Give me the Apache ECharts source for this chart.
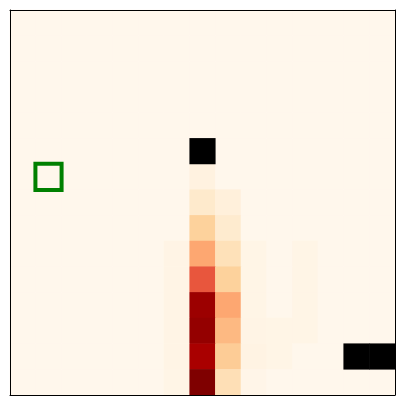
<!DOCTYPE html>
<html>
<head>
<meta charset="utf-8">
<script src="https://cdn.jsdelivr.net/npm/echarts@6/dist/echarts.min.js"></script>
<style>html,body{margin:0;padding:0;background:#fff;}#c{width:405px;height:405px;}</style>
</head>
<body>
<div id="c"></div>
<script>
// 15 x 15 grid, rows listed top to bottom
var xCategories = ['0','1','2','3','4','5','6','7','8','9','10','11','12','13','14'];
var yCategories = ['0','1','2','3','4','5','6','7','8','9','10','11','12','13','14'];
var heatValues = [
  [0,0,0,0,0,0,0,0,0,0,0,0,0,0,0],
  [0,0,0,0,0,0,0,0,0,0,0,0,0,0,0],
  [0,0,0,0,0,0,0,0,0,0,0,0,0,0,0],
  [0,0,0,0,0,0,0,0,0,0,0,0,0,0,0],
  [0,0,0,0,0,0,0,0,0,0,0,0,0,0,0],
  [0,0,0,0,0,0,0,null,0,0,0,0,0,0,0],
  [0,0,0,0,0,0,0,0.04,0,0,0,0,0,0,0],
  [0,0,0,0,0,0,0,0.11,0.06,0,0,0,0,0,0],
  [0,0,0,0,0,0,0,0.26,0.10,0,0,0,0,0,0],
  [0,0,0,0,0,0,0.025,0.43,0.17,0.02,0,0.02,0,0,0],
  [0,0,0,0,0,0,0.025,0.66,0.26,0.02,0,0.02,0,0,0],
  [0,0,0,0,0,0,0.025,0.93,0.43,0.02,0,0.02,0,0,0],
  [0,0,0,0,0,0,0.025,0.95,0.38,0.025,0.02,0.02,0,0,0],
  [0,0,0,0,0,0,0.025,0.90,0.29,0.03,0.02,0,0,null,null],
  [0,0,0,0,0,0,0.02,1.00,0.18,0.015,0,0,0,0,0]
];
// cells drawn in black (masked)
var maskedCells = [[7,5],[13,13],[14,13]];
// outlined cell [col,row]
var highlightCells = [[1,6]];
var orrd = ['#fff7ec','#fee8c8','#fdd49e','#fdbb84','#fc8d59','#ef6548','#d7301f','#b30000','#7f0000'];

var heatData = [];
for (var r = 0; r < heatValues.length; r++) {
  for (var c = 0; c < heatValues[r].length; c++) {
    if (heatValues[r][c] !== null) heatData.push([c, r, heatValues[r][c]]);
  }
}
function frameAxis(type, pos, inv) {
  return {type: 'category', data: type === 'x' ? xCategories : yCategories, position: pos, inverse: inv, z: 10,
    axisLine: {show: true, onZero: false, lineStyle: {color: '#000', width: 1}},
    axisTick: {show: false}, axisLabel: {show: false}, splitLine: {show: false}};
}
var chart = echarts.init(document.getElementById('c'), null, {renderer:'canvas'});
chart.setOption({
  animation: false,
  grid: {left: 10, top: 10, right: 10, bottom: 10},
  xAxis: [frameAxis('x', 'bottom', false), frameAxis('x', 'top', false)],
  yAxis: [frameAxis('y', 'left', true), frameAxis('y', 'right', true)],
  visualMap: {show: false, min: 0, max: 1, seriesIndex: 0, inRange: {color: orrd}},
  series: [
    {type: 'heatmap', data: heatData, z: 2},
    {type: 'heatmap', data: maskedCells.map(function(p){return [p[0], p[1], 1];}), itemStyle: {color: '#000'}, z: 3},
    {type: 'heatmap', data: highlightCells.map(function(p){return [p[0], p[1], 1];}),
     itemStyle: {color: 'rgba(0,0,0,0)', borderColor: '#008000', borderWidth: 4}, z: 4}
  ]
});
</script>
</body>
</html>
